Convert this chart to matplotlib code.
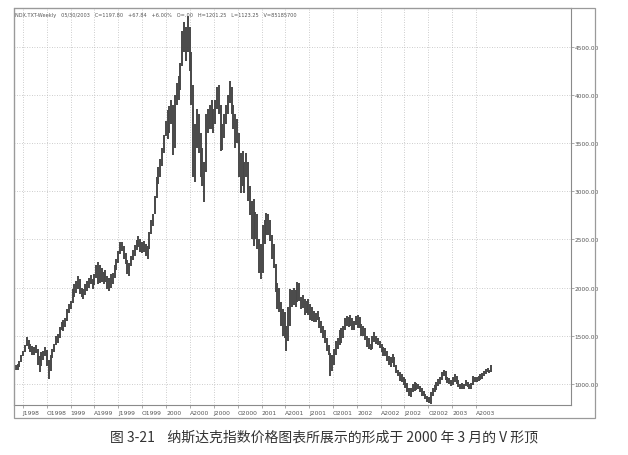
import datetime as dt
import pandas as pd
import matplotlib
matplotlib.use("Agg")
from matplotlib import pyplot as plt
import matplotlib.dates as mdates
from matplotlib.patches import Rectangle

plt.rcParams['font.family'] = ['DejaVu Sans']

# weekly bars, NDX, Friday dates from 1998-06-05 to 2003-05-30 (261 weeks)
week_dates = pd.date_range('1998-06-05', '2003-05-30', freq='W-FRI')

highs = [
    # 1998 jun - dec
    1200, 1205, 1240, 1300,
    1345, 1400, 1485, 1460, 1420,
    1390, 1380, 1400, 1360,
    1290, 1330, 1340, 1380,
    1350, 1250, 1300, 1360, 1420,
    1500, 1520, 1590, 1640,
    1660, 1690, 1780, 1830,
    # 1999
    1860, 1990, 2040, 2070, 2120,
    2090, 2000, 1990, 2040,
    2070, 2100, 2130, 2090,
    2140, 2230, 2265, 2230, 2200,
    2160, 2180, 2120, 2100,
    2140, 2150, 2230, 2300,
    2380, 2473, 2470, 2430, 2360,
    2290, 2260, 2330, 2390,
    2440, 2490, 2536, 2500,
    2470, 2480, 2450, 2430, 2580,
    2700, 2760, 2950, 3150,
    3250, 3330, 3450, 3580, 3730,
    # 2000
    3840, 3890, 3950, 3900,
    4000, 4120, 4200, 4330,
    4660, 4760, 4700, 4820, 4700,
    4450, 4100, 3700, 3850,
    3800, 3600, 3450, 3300,
    3800, 3850, 3900, 3950, 3850,
    3950, 4080, 4100, 3900,
    3700, 3800, 3900, 4000,
    4145, 4080, 3900, 3800, 3750,
    3600, 3400, 3420, 3300,
    3400, 3300, 3050, 2900,
    2920, 2790, 2760, 2500, 2450,
    # 2001
    2650, 2700, 2770, 2760,
    2700, 2550, 2450, 2250,
    2050, 2000, 1850, 1780, 1750,
    1600, 1800, 1990, 1980,
    2000, 1980, 2060, 2050,
    1900, 1920, 1880, 1860, 1880,
    1830, 1800, 1760, 1740,
    1760, 1700, 1650, 1600, 1560,
    1480, 1400, 1320, 1300,
    1360, 1450, 1480, 1560,
    1580, 1600, 1680, 1710, 1700,
    1720, 1680, 1650, 1710,
    # 2002
    1720, 1700, 1620, 1600,
    1580, 1500, 1480, 1420,
    1500, 1540, 1500, 1480, 1450,
    1420, 1380, 1370, 1340,
    1290, 1280, 1310, 1280, 1200,
    1150, 1120, 1100, 1070,
    1050, 1010, 960, 960,
    1000, 1020, 1010, 1000, 980,
    960, 930, 900, 880,
    870, 920, 960, 990,
    1020, 1050, 1070, 1120, 1150,
    1130, 1070, 1060, 1040,
    # 2003 jan - may
    1070, 1100, 1080, 1040, 1000,
    1010, 1000, 1040, 1020,
    1000, 1010, 1080, 1070,
    1070, 1080, 1100, 1110,
    1140, 1160, 1170, 1150, 1201.25,
]

lows = [
    # 1998 jun - dec
    1150, 1145, 1180, 1230,
    1290, 1330, 1395, 1360, 1330,
    1300, 1300, 1320, 1200,
    1125, 1190, 1250, 1290,
    1190, 1055, 1140, 1270, 1330,
    1400, 1430, 1480, 1560,
    1550, 1590, 1650, 1740,
    # 1999
    1780, 1840, 1900, 1940, 1990,
    1930, 1900, 1880, 1920,
    1960, 2000, 2040, 1990,
    2030, 2100, 2040, 2050, 2060,
    2040, 2060, 1990, 1965,
    2000, 2040, 2100, 2180,
    2260, 2350, 2380, 2300, 2250,
    2140, 2120, 2220, 2290,
    2330, 2390, 2420, 2370,
    2360, 2370, 2330, 2300, 2400,
    2560, 2640, 2760, 2930,
    3080, 3150, 3260, 3400, 3570,
    # 2000
    3540, 3600, 3700, 3380,
    3450, 3900, 3950, 4050,
    4300, 4450, 4350, 4450, 4250,
    3900, 3150, 3100, 3450,
    3400, 3150, 3050, 2890,
    3200, 3600, 3650, 3650, 3600,
    3700, 3850, 3800, 3420,
    3430, 3550, 3700, 3800,
    3920, 3800, 3650, 3450, 3500,
    3150, 2980, 3050, 2980,
    3150, 2900, 2750, 2500,
    2430, 2500, 2400, 2150, 2090,
    # 2001
    2150, 2450, 2550, 2550,
    2480, 2300, 2200, 1950,
    1780, 1750, 1600, 1500, 1480,
    1346, 1450, 1600, 1800,
    1820, 1800, 1850, 1860,
    1780, 1790, 1720, 1740, 1720,
    1660, 1650, 1640, 1640,
    1660, 1580, 1530, 1480, 1430,
    1340, 1300, 1086, 1140,
    1200, 1300, 1360, 1400,
    1430, 1480, 1560, 1600, 1590,
    1600, 1560, 1560, 1610,
    # 2002
    1580, 1580, 1500, 1500,
    1460, 1380, 1360, 1350,
    1360, 1440, 1420, 1400, 1370,
    1330, 1290, 1290, 1240,
    1200, 1180, 1220, 1180, 1110,
    1080, 1030, 1020, 990,
    960, 920, 880, 860,
    920, 930, 940, 950, 920,
    880, 880, 840, 810,
    800, 795, 880, 920,
    940, 980, 1000, 1040, 1080,
    1040, 1010, 1000, 980,
    # 2003 jan - may
    990, 1020, 1000, 970, 950,
    950, 950, 980, 970,
    950, 950, 990, 1020,
    1020, 1030, 1040, 1050,
    1080, 1100, 1120, 1110, 1123.25,
]

price_ticks = [1000, 1500, 2000, 2500, 3000, 3500, 4000, 4500]

quarter_dates = ['1998-07-01', '1998-10-01', '1999-01-01', '1999-04-01',
                 '1999-07-01', '1999-10-01', '2000-01-01', '2000-04-01',
                 '2000-07-01', '2000-10-01', '2001-01-01', '2001-04-01',
                 '2001-07-01', '2001-10-01', '2002-01-01', '2002-04-01',
                 '2002-07-01', '2002-10-01', '2003-01-01', '2003-04-01']
quarter_labels = ['J1998', 'O1998', '1999', 'A1999', 'J1999', 'O1999',
                  '2000', 'A2000', 'J2000', 'O2000', '2001', 'A2001',
                  'J2001', 'O2001', '2002', 'A2002', 'J2002', 'O2002',
                  '2003', 'A2003']

header = ("NDX.TXT-Weekly   05/30/2003   C=1197.80   +67.84   +6.00%   O=.00   "
          "H=1201.25   L=1123.25   V=85185700")
caption = "图 3-21    纳斯达克指数价格图表所展示的形成于 2000 年 3 月的 V 形顶"

W, H = 628, 456
fig = plt.figure(figsize=(W / 100, H / 100), dpi=100)
fig.patch.set_facecolor('white')

# plot area in pixels: x 14..571, y 9..406
ax = fig.add_axes([14 / W, 1 - 406 / H, (571 - 14) / W, (406 - 9) / H])

ax.vlines(week_dates, lows, highs, color='#474747', linewidth=1.4)

ax.set_xlim(mdates.date2num(dt.datetime(1998, 5, 29)),
            mdates.date2num(dt.datetime(2004, 3, 30)))
ax.set_ylim(782, 4902)

qd = [mdates.date2num(pd.Timestamp(d)) for d in quarter_dates]
ax.set_xticks(qd)
ax.set_xticklabels(quarter_labels, fontsize=4.3, color='#555555', ha='left')
ax.tick_params(axis='x', direction='out', length=2, width=0.5, color='#888888', pad=1.5)

ax.yaxis.tick_right()
ax.set_yticks(price_ticks)
ax.set_yticklabels(['%.2f' % v for v in price_ticks], fontsize=4.2, color='#555555')
ax.tick_params(axis='y', direction='out', length=2, width=0.5, color='#888888', pad=0.5)

ax.grid(True, linestyle=(0, (1, 2)), color='#bcbcbc', linewidth=0.6)
ax.set_axisbelow(True)
for s in ax.spines.values():
    s.set_color('#8a8a8a')
    s.set_linewidth(0.8)

# outer frame including price and date strips
fig.patches.append(Rectangle((14 / W, 1 - 419 / H), (595 - 14) / W, (419 - 9) / H,
                             transform=fig.transFigure, fill=False,
                             edgecolor='#9a9a9a', linewidth=0.9))

fig.text(15 / W, 1 - 15 / H, header, fontsize=3.6, color='#555555', va='center', ha='left')

fig.text(324 / W, 1 - 437 / H, caption, fontsize=10, color='#333333',
         ha='center', va='center', family=['Noto Sans CJK SC', 'DejaVu Sans'])

fig.savefig('out.png', dpi=100)
